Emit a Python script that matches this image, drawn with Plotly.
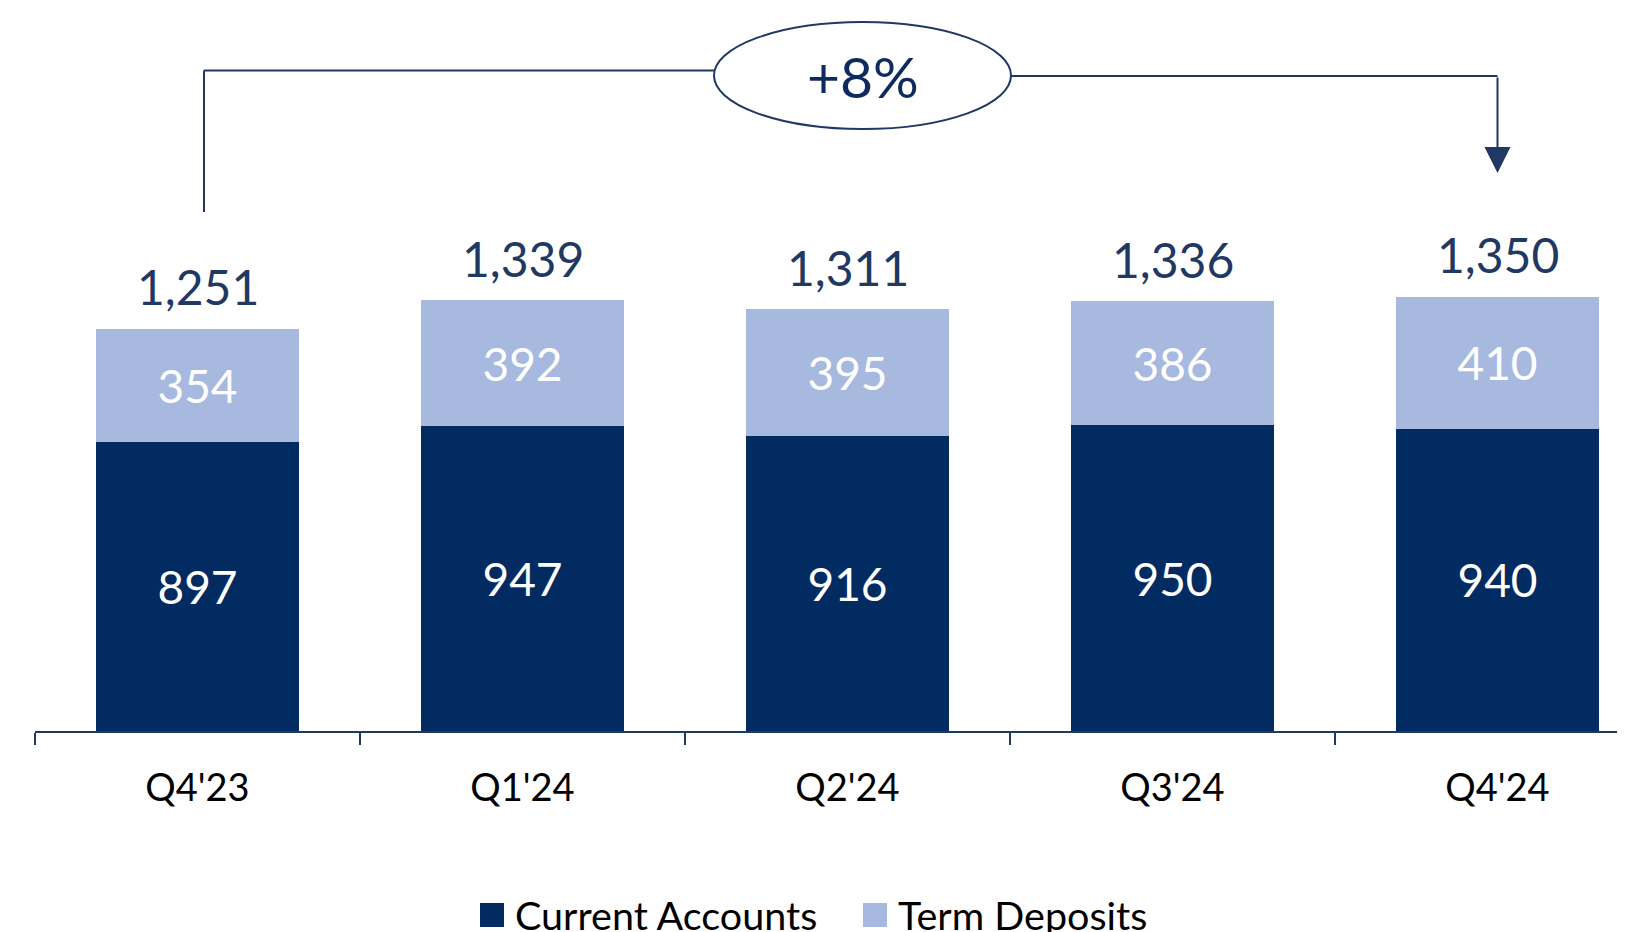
import plotly.graph_objects as go

categories = ["Q4'23", "Q1'24", "Q2'24", "Q3'24", "Q4'24"]
current_accounts = [897, 947, 916, 950, 940]
term_deposits = [354, 392, 395, 386, 410]
totals = [1251, 1339, 1311, 1336, 1350]
growth_label = "+8%"

DARK = "#022B62"
LIGHT = "#A8B9DF"
TXT = "#1F3864"
FONT = "Lato, 'Open Sans', sans-serif"

W, H = 1625, 932
OFF = 8                   # page body margin offset
ML, MR, MT = 35 - OFF, 0, 0
AXIS_Y = 731 - OFF        # axis position in figure pixels
MB = H - AXIS_Y
PW = W - ML - MR
PH = AXIS_Y - MT
CAT_PX = 325.0            # pixels per category
Y_PX = 0.3217             # pixels per unit
x_range = [-0.5, -0.5 + PW / CAT_PX]
y_range = [0, PH / Y_PX]

# helpers taking page (screenshot) pixel coordinates
def ydat(py):
    return (AXIS_Y - (py - OFF)) / Y_PX

def xdat(px):
    return (px - 35) / CAT_PX - 0.5

def xp(px):
    return (px - OFF - ML) / PW

def yp(py):
    return (AXIS_Y - (py - OFF)) / PH

fig = go.Figure()
fig.add_trace(go.Bar(
    x=categories, y=current_accounts, name="Current Accounts",
    marker=dict(color=DARK, line=dict(width=0)),
    text=[f"{v:,}" for v in current_accounts], textposition="inside",
    insidetextanchor="middle", textangle=0,
    insidetextfont=dict(color="white", size=46, family=FONT),
))
fig.add_trace(go.Bar(
    x=categories, y=term_deposits, name="Term Deposits",
    marker=dict(color=LIGHT, line=dict(width=0)),
    text=[f"{v:,}" for v in term_deposits], textposition="inside",
    insidetextanchor="middle", textangle=0,
    insidetextfont=dict(color="white", size=46, family=FONT),
))

annotations = []
for c, t in zip(categories, totals):
    annotations.append(dict(
        x=c, y=t, text=f"{t:,}", showarrow=False, yanchor="middle",
        yshift=42, font=dict(size=48, color=TXT, family=FONT)))

# growth bracket
ex0, ex1 = xdat(714), xdat(1011)
ey0, ey1 = ydat(129), ydat(22)
left_x = xdat(204)
shapes = [
    dict(type="line", xref="x", yref="y", x0=left_x, x1=left_x,
         y0=ydat(212), y1=ydat(70.5), line=dict(color=TXT, width=2)),
    dict(type="line", xref="x", yref="y", x0=left_x, x1=ex0,
         y0=ydat(70.5), y1=ydat(70.5), line=dict(color=TXT, width=2)),
    dict(type="line", xref="x", yref="y", x0=ex1, x1=4,
         y0=ydat(76), y1=ydat(76), line=dict(color=TXT, width=2)),
    dict(type="circle", xref="x", yref="y", x0=ex0, x1=ex1, y0=ey0, y1=ey1,
         line=dict(color=TXT, width=2), fillcolor="white"),
]
annotations.append(dict(
    x=4, y=ydat(173), ax=4, ay=ydat(76), axref="x", ayref="y", xref="x", yref="y",
    text="", showarrow=True, arrowhead=2, arrowsize=2.6, arrowwidth=2,
    arrowcolor=TXT, standoff=0))
annotations.append(dict(
    x=(ex0 + ex1) / 2, y=(ey0 + ey1) / 2, text=growth_label, showarrow=False,
    font=dict(size=57, color="#0E2A5E", family=FONT)))

# manual legend
legend_items = [("Current Accounts", DARK, 480), ("Term Deposits", LIGHT, 863)]
for name, col, sx in legend_items:
    shapes.append(dict(type="rect", xref="paper", yref="paper",
                       x0=xp(sx), x1=xp(sx + 24), y0=yp(927), y1=yp(903),
                       fillcolor=col, line=dict(width=0)))
    annotations.append(dict(xref="paper", yref="paper", x=xp(sx + 33), y=yp(914),
                            text=name, showarrow=False, xanchor="left", yanchor="middle",
                            font=dict(size=39.5, color="black", family=FONT)))

fig.update_layout(
    width=W, height=H, barmode="stack", bargap=0.375,
    margin=dict(l=ML, r=MR, t=MT, b=MB),
    plot_bgcolor="white", paper_bgcolor="white",
    showlegend=False, uniformtext=dict(mode=False),
    shapes=shapes, annotations=annotations,
    font=dict(family=FONT),
    xaxis=dict(range=x_range, showline=True, linecolor=TXT, linewidth=2,
               ticks="outside", ticklen=12, tickwidth=2, tickcolor=TXT,
               tickson="boundaries", showgrid=False, zeroline=False,
               tickfont=dict(size=38, color="black", family=FONT),
               ticklabelstandoff=22),
    yaxis=dict(range=y_range, visible=False, showgrid=False, zeroline=False),
)

fig.write_html("out.html")
